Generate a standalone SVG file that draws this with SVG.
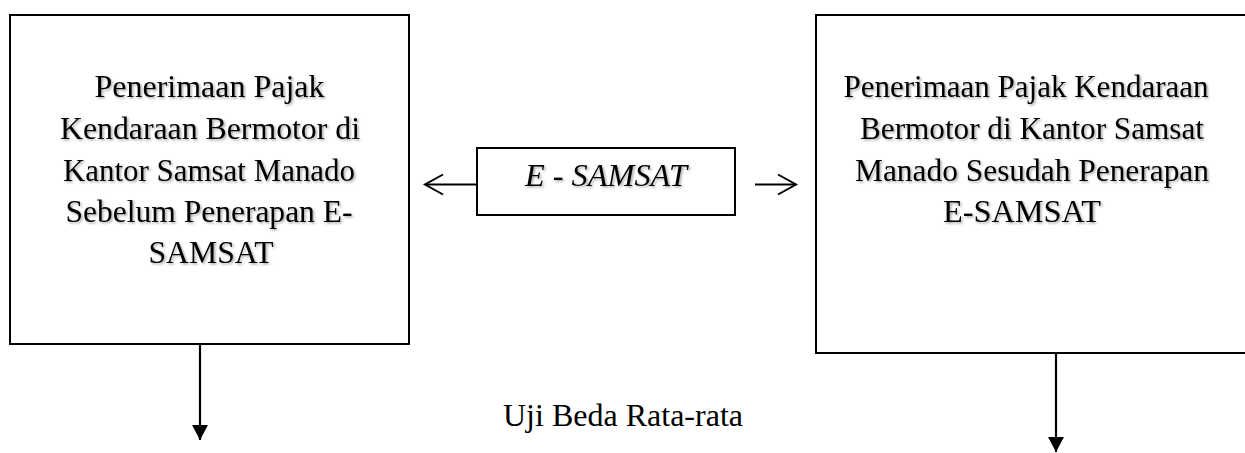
<svg xmlns="http://www.w3.org/2000/svg" width="1245" height="453" viewBox="0 0 1245 453">
<style>
.box{fill:#fff;stroke:#000;stroke-width:2}
.t{font-family:"Liberation Serif","Times New Roman",serif;font-size:31px;fill:#000;text-anchor:middle}
.it{font-style:italic}
.ln{stroke:#000;stroke-width:2.2;fill:none}
.open{stroke:#000;stroke-width:2;fill:none}
</style>
<defs>
<filter id="sh" x="-10%" y="-30%" width="120%" height="160%">
<feDropShadow dx="1.5" dy="1.5" stdDeviation="1" flood-color="#000" flood-opacity="0.35"/>
</filter>
<marker id="tri" viewBox="0 0 15 16" refX="15" refY="8" markerWidth="15" markerHeight="16" markerUnits="userSpaceOnUse" orient="auto">
<path d="M0,0 L15,8 L0,16 Z" fill="#000"/>
</marker>
</defs>
<rect width="1245" height="453" fill="#fff"/>
<g id="before">
<rect class="box" x="10" y="15" width="399" height="329"/>
<g class="t" filter="url(#sh)">
<text x="209.5" y="97" textLength="230" lengthAdjust="spacingAndGlyphs">Penerimaan Pajak</text>
<text x="210" y="139" textLength="300" lengthAdjust="spacingAndGlyphs">Kendaraan Bermotor di</text>
<text x="209" y="181" textLength="292" lengthAdjust="spacingAndGlyphs">Kantor Samsat Manado</text>
<text x="209" y="222" textLength="287" lengthAdjust="spacingAndGlyphs">Sebelum Penerapan E-</text>
<text x="211" y="263" textLength="125" lengthAdjust="spacingAndGlyphs">SAMSAT</text>
</g>
</g>
<g id="after">
<rect class="box" x="816" y="15" width="440" height="338"/>
<g class="t" filter="url(#sh)">
<text x="1026" y="97" textLength="365" lengthAdjust="spacingAndGlyphs">Penerimaan Pajak Kendaraan</text>
<text x="1032" y="139" textLength="344" lengthAdjust="spacingAndGlyphs">Bermotor di Kantor Samsat</text>
<text x="1032" y="181" textLength="354" lengthAdjust="spacingAndGlyphs">Manado Sesudah Penerapan</text>
<text x="1022" y="222" textLength="158" lengthAdjust="spacingAndGlyphs">E-SAMSAT</text>
</g>
</g>
<g id="esamsat">
<rect class="box" x="477" y="148" width="258" height="67"/>
<text class="t it" filter="url(#sh)" x="606" y="186" textLength="162" lengthAdjust="spacingAndGlyphs">E - SAMSAT</text>
</g>
<g id="uji">
<text class="t" style="font-size:32px" x="623" y="426" textLength="240" lengthAdjust="spacingAndGlyphs">Uji Beda Rata-rata</text>
</g>
<g id="connectors">
<line class="ln" x1="476" y1="184.5" x2="425" y2="184.5"/>
<polyline class="open" points="443,174.5 425,184.5 443,194.5"/>
<line class="ln" x1="755" y1="184.5" x2="796" y2="184.5"/>
<polyline class="open" points="778,174.5 796,184.5 778,194.5"/>
<line class="ln" x1="200" y1="345" x2="200" y2="440" marker-end="url(#tri)"/>
<line class="ln" x1="1056" y1="354" x2="1056" y2="452" marker-end="url(#tri)"/>
</g>
</svg>
